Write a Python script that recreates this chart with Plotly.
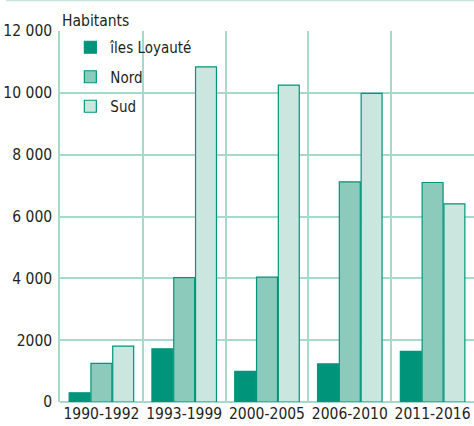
import plotly.graph_objects as go

categories = ["1990-1992", "1993-1999", "2000-2005", "2006-2010", "2011-2016"]
iles_loyaute = [300, 1720, 990, 1230, 1640]
nord = [1250, 4020, 4040, 7120, 7100]
sud = [1810, 10840, 10250, 9980, 6410]
y_tickvals = [0, 2000, 4000, 6000, 8000, 10000, 12000]
y_ticktext = ["0", "2000", "4 000", "6 000", "8 000", "10 000", "12 000"]

FONT = "Liberation Sans Narrow, DejaVu Sans Condensed, Roboto Condensed, Arial Narrow, sans-serif"
TXT = "#231f20"
GRID = "#a6dacb"
EDGE = "#00957a"

fig = go.Figure()
series = [("îles Loyauté", iles_loyaute, "#00957a"),
          ("Nord", nord, "#8ccbbb"),
          ("Sud", sud, "#cbe6df")]
for i, (name, vals, col) in enumerate(series):
    fig.add_trace(go.Bar(
        name=name, x=categories, y=vals,
        marker=dict(color=col, line=dict(color=EDGE, width=1.2)),
        legendgroup=f"g{i}",
    ))

fig.update_layout(
    width=474, height=426,
    margin=dict(l=60, r=0, t=31, b=24),
    paper_bgcolor="white", plot_bgcolor="white",
    barmode="group", bargap=0.21, bargroupgap=0.04,
    font=dict(family=FONT, color=TXT, size=15),
    showlegend=True,
    legend=dict(x=0.025, y=1.0, xanchor="left", yanchor="top",
                bgcolor="rgba(0,0,0,0)", tracegroupgap=7,
                font=dict(size=15, family=FONT, color=TXT)),
    xaxis=dict(type="category", tickson="boundaries", showgrid=True,
               gridcolor=GRID, gridwidth=1.5, ticks="", showline=False,
               tickangle=0, automargin=False, ticklabelstandoff=0,
               tickfont=dict(size=15.5, family=FONT, color=TXT)),
    yaxis=dict(range=[0, 12000], tickvals=y_tickvals, ticktext=y_ticktext,
               showgrid=True, gridcolor=GRID, gridwidth=1.5,
               zeroline=True, zerolinecolor=GRID, zerolinewidth=1.5,
               showline=True, linecolor=GRID, linewidth=1.5,
               ticks="outside", ticklen=3, tickcolor="rgba(0,0,0,0)",
               automargin=False,
               tickfont=dict(size=15.5, family=FONT, color=TXT)),
    annotations=[dict(text="Habitants", xref="paper", yref="paper",
                      x=0, y=1, xanchor="left", yanchor="bottom",
                      showarrow=False, yshift=-1,
                      font=dict(size=15.5, family=FONT, color=TXT))],
    shapes=[dict(type="line", xref="paper", yref="paper",
                 x0=-0.13, x1=1, y0=1 + 30.5 / 371, y1=1 + 30.5 / 371,
                 line=dict(color="#c4e6dc", width=1.5))],
)

fig.write_html("out.html", config={"displayModeBar": False},
               post_script="document.body.style.margin='0px';")
